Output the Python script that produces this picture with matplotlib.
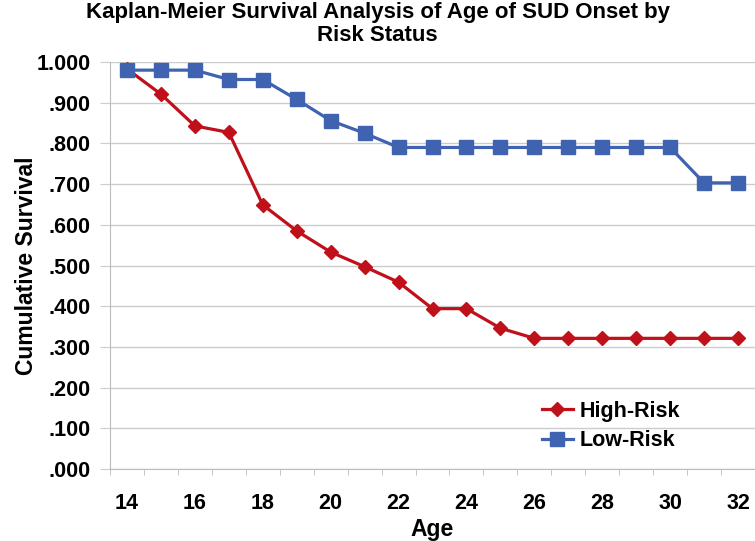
import matplotlib.pyplot as plt
from matplotlib.patches import Rectangle
from matplotlib.ticker import FuncFormatter

# Datos
ages = [14, 15, 16, 17, 18, 19, 20, 21, 22, 23, 24, 25, 26, 27, 28, 29, 30, 31, 32]
high_risk = [0.983, 0.921, 0.843, 0.827, 0.649, 0.585, 0.533, 0.497, 0.459, 0.394, 0.394,
             0.346, 0.321, 0.321, 0.321, 0.321, 0.321, 0.321, 0.321]
low_risk = [0.980, 0.980, 0.980, 0.957, 0.957, 0.908, 0.856, 0.825, 0.790, 0.790, 0.790,
            0.790, 0.790, 0.790, 0.790, 0.790, 0.790, 0.703, 0.703]
x_labels = [14, 16, 18, 20, 22, 24, 26, 28, 30, 32]
y_ticks = [0.0, 0.1, 0.2, 0.3, 0.4, 0.5, 0.6, 0.7, 0.8, 0.9, 1.0]

plt.rcParams["font.family"] = ["Liberation Sans", "DejaVu Sans"]
plt.rcParams["font.weight"] = "bold"

W, H = 755, 541
fig = plt.figure(figsize=(W / 100, H / 100), dpi=100)
ax = fig.add_axes([110 / W, 1 - 469 / H, 645 / W, 407 / H])

ax.plot(ages, high_risk, color="#C0101A", linewidth=2.3, marker="D", markersize=7.5,
        label="High-Risk", zorder=3)
ax.plot(ages, low_risk, color="#3F63B0", linewidth=2.3, marker="s", markersize=9.5,
        label="Low-Risk", zorder=3)

ax.set_xlim(13.5, 32.5)
ax.set_ylim(0, 1.0)
ax.set_yticks(y_ticks)
ax.yaxis.set_major_formatter(FuncFormatter(lambda v, _: "1.000" if v >= 1 else f"{v:.3f}"[1:]))
ax.set_xticks(x_labels)
ax.set_xticks([13.5] + [a + 0.5 for a in ages], minor=True)
ax.tick_params(axis="x", which="major", length=0, pad=17.5, labelsize=15.5)
ax.tick_params(axis="x", which="minor", length=4.5, color="#BBBBBB", direction="out")
ax.tick_params(axis="y", length=7, color="#CCCCCC", pad=7, labelsize=15.5)

ax.grid(True, axis="y", color="#CCCCCC", linewidth=1)
ax.set_axisbelow(True)
for s in ["top", "right"]:
    ax.spines[s].set_visible(False)
ax.spines["left"].set_color("#BBBBBB")
ax.spines["bottom"].set_color("#BBBBBB")

ax.set_xlabel("Age", fontsize=16.5, fontweight="bold")
ax.xaxis.set_label_coords(0.5, -0.12)
ax.set_ylabel("Cumulative Survival", fontsize=16.5, fontweight="bold")
ax.yaxis.set_label_coords(-0.112, 0.5)

fig.text(0.5, 1 - 2 / H, "Kaplan-Meier Survival Analysis of Age of SUD Onset by\nRisk Status",
         ha="center", va="top", fontsize=16, fontweight="bold", linespacing=1.14)

# fondo blanco del cuadro de leyenda (tapa la rejilla como en Excel)
fig.patches.append(Rectangle((493 / W, 1 - 456 / H), 237 / W, 64 / H,
                             transform=fig.transFigure, facecolor="white",
                             edgecolor="none", zorder=1))
ax.set_zorder(2)
ax.patch.set_alpha(0)

leg = ax.legend(loc="upper left", bbox_to_anchor=(531 / W, 1 - 390 / H),
                bbox_transform=fig.transFigure, frameon=False, fontsize=15.5,
                handlelength=1.45, handletextpad=0.3, labelspacing=0.4, borderpad=0)

plt.savefig("out.png", dpi=100)
